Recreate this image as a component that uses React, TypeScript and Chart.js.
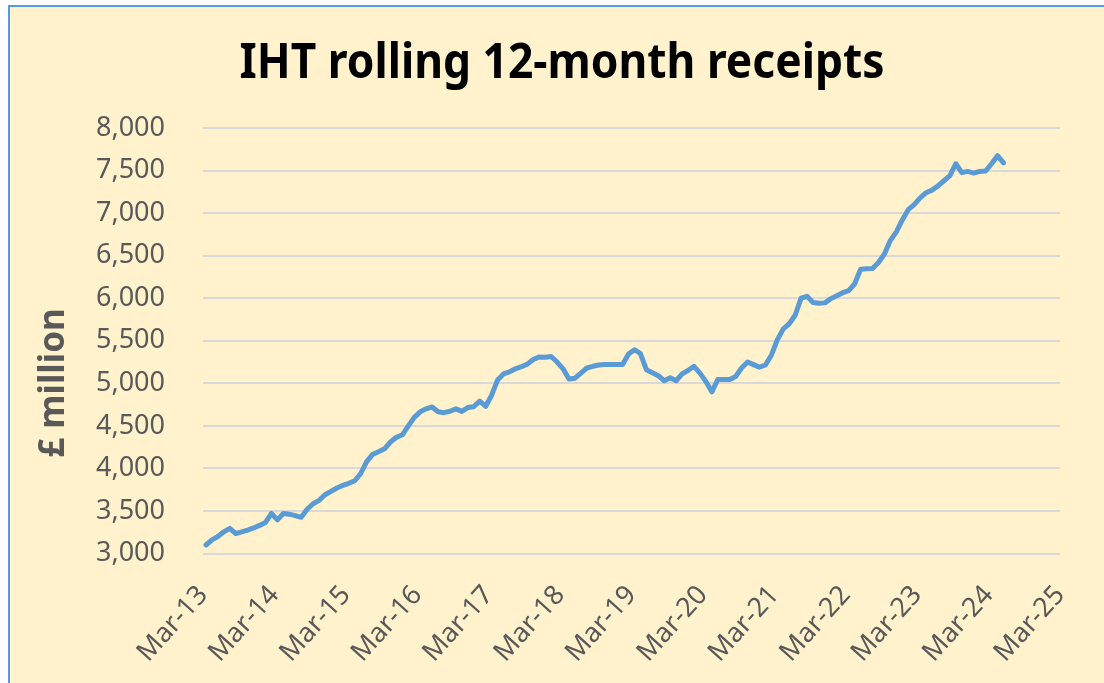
import React, { useEffect, useRef } from "react";
import { Chart, registerables } from "chart.js";

Chart.register(...registerables);

// ---- Data ----
const chartTitle = "IHT rolling 12-month receipts";
const yAxisTitle = "£ million";
const xTickLabels = [
  "Mar-13", "Mar-14", "Mar-15", "Mar-16", "Mar-17", "Mar-18", "Mar-19",
  "Mar-20", "Mar-21", "Mar-22", "Mar-23", "Mar-24", "Mar-25",
];
const yMin = 3000;
const yMax = 8000;
const yStep = 500;
const monthsPerTick = 12;
// Monthly rolling 12-month receipts (£ million), from Mar-13 onward
const receipts = [
  3100, 3160, 3200, 3255, 3295, 3235, 3255, 3275, 3300, 3330, 3365, 3470,
  3395, 3470, 3462, 3445, 3425, 3520, 3585, 3625, 3690, 3730, 3770, 3800,
  3825, 3855, 3940, 4080, 4165, 4195, 4230, 4310, 4365, 4395, 4500, 4600,
  4665, 4700, 4722, 4665, 4655, 4672, 4700, 4670, 4715, 4725, 4790, 4730,
  4860, 5040, 5110, 5135, 5170, 5195, 5225, 5280, 5310, 5305, 5315, 5250,
  5170, 5050, 5060, 5120, 5180, 5200, 5215, 5220, 5220, 5220, 5220, 5345,
  5395, 5350, 5160, 5125, 5090, 5030, 5065, 5030, 5110, 5150, 5200, 5120,
  5020, 4900, 5045, 5045, 5045, 5080, 5180, 5250, 5220, 5190, 5215, 5330,
  5510, 5640, 5700, 5800, 6000, 6022, 5950, 5940, 5945, 5995, 6030, 6065,
  6090, 6170, 6340, 6345, 6350, 6420, 6520, 6680, 6780, 6920, 7040, 7100,
  7180, 7240, 7270, 7320, 7380, 7440, 7580, 7475, 7490, 7470, 7490, 7495,
  7580, 7675, 7590,
];

const BG = "#FFF2CC";
const FRAME = "#5B9BD5";
const LINE = "#5B9BD5";
const GRID = "#D9D9D9";
const TEXT = "#595959";
const FONT = "'Noto Sans', 'Open Sans', sans-serif";

const titlesPlugin = {
  id: "customTitles",
  afterDraw(chart: any) {
    const ctx = chart.ctx;
    ctx.save();
    // main title
    ctx.font = `bold 48px ${FONT}`;
    ctx.fillStyle = "#000000";
    ctx.textAlign = "center";
    ctx.textBaseline = "alphabetic";
    const w = ctx.measureText(chartTitle).width;
    const sx = 645 / w;
    ctx.translate(562, 78);
    ctx.scale(sx, 1);
    ctx.fillText(chartTitle, 0, 0);
    ctx.restore();

    // y axis title
    ctx.save();
    ctx.font = `bold 35px ${FONT}`;
    ctx.fillStyle = TEXT;
    ctx.textAlign = "center";
    ctx.textBaseline = "middle";
    ctx.translate(54, 383);
    ctx.rotate(-Math.PI / 2);
    ctx.fillText(yAxisTitle, 0, 0);
    ctx.restore();
  },
};

export default function App() {
  const canvasRef = useRef<HTMLCanvasElement | null>(null);

  useEffect(() => {
    if (!canvasRef.current) return;
    const points = receipts.map((v, i) => ({ x: i + 0.5, y: v }));
    const chart = new Chart(canvasRef.current, {
      type: "line",
      data: {
        datasets: [
          {
            data: points,
            borderColor: LINE,
            borderWidth: 5,
            pointRadius: 0,
            tension: 0,
            borderJoinStyle: "round",
            borderCapStyle: "round",
          },
        ],
      },
      options: {
        responsive: false,
        animation: false,
        layout: { padding: { left: 0, top: 128, right: 44, bottom: 0 } },
        plugins: {
          legend: { display: false },
          tooltip: { enabled: false },
          title: { display: false },
        },
        scales: {
          x: {
            type: "linear",
            min: 0,
            max: (xTickLabels.length - 1) * monthsPerTick,
            afterFit: (s: any) => {
              s.height = 683 - 553.5;
              s.paddingLeft = 0;
              s.paddingRight = 0;
            },
            ticks: {
              stepSize: monthsPerTick,
              autoSkip: false,
              maxRotation: 48,
              minRotation: 48,
              padding: 26,
              color: TEXT,
              font: { family: FONT, size: 27 },
              callback: (v: any) => xTickLabels[Math.round(Number(v) / monthsPerTick)] ?? "",
            },
            grid: { display: false, drawTicks: false },
            border: { display: false },
          },
          y: {
            min: yMin,
            max: yMax,
            afterFit: (s: any) => {
              s.width = 203;
            },
            ticks: {
              stepSize: yStep,
              padding: 38,
              color: TEXT,
              font: { family: FONT, size: 27 },
              callback: (v: any) => Number(v).toLocaleString("en-US"),
            },
            grid: { color: GRID, lineWidth: 2, drawTicks: false },
            border: { display: false },
          },
        },
      },
      plugins: [titlesPlugin],
    });
    return () => chart.destroy();
  }, []);

  return (
    <div>
      <div
        style={{
          position: "fixed",
          left: 8,
          top: 5,
          width: 1200,
          height: 800,
          background: BG,
          borderLeft: `2px solid ${FRAME}`,
          borderTop: `2px solid ${FRAME}`,
        }}
      />
      <canvas
        ref={canvasRef}
        width={1104}
        height={683}
        style={{ position: "fixed", left: 0, top: 0, width: 1104, height: 683 }}
      />
    </div>
  );
}
